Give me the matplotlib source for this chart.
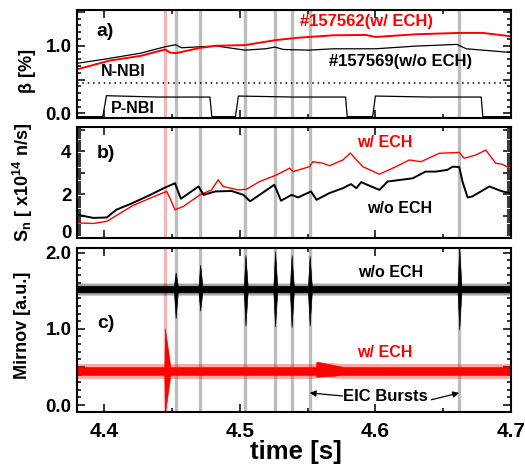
import numpy as np
import matplotlib
matplotlib.use("Agg")
import matplotlib.pyplot as plt
from matplotlib.ticker import MultipleLocator
from matplotlib.transforms import ScaledTranslation

plt.rcParams['font.family'] = ['Liberation Sans', 'DejaVu Sans']
plt.rcParams['font.weight'] = 'bold'
plt.rcParams['mathtext.fontset'] = 'custom'
plt.rcParams['mathtext.rm'] = 'Liberation Sans:bold'
plt.rcParams['mathtext.it'] = 'Liberation Sans:bold'
plt.rcParams['mathtext.bf'] = 'Liberation Sans:bold'
plt.rcParams['mathtext.default'] = 'rm'

# event times (vertical bands)
t_ech_burst = 4.4452
t_eic = [4.4527, 4.4708, 4.5042, 4.5260, 4.5382, 4.5515, 4.6618]

# a) beta [%]
t_beta_ech = [4.380, 4.404, 4.427, 4.445, 4.4485, 4.453, 4.471, 4.483, 4.504,
              4.527, 4.544, 4.569, 4.593, 4.600, 4.630, 4.662, 4.679, 4.700]
beta_ech = [0.65, 0.78, 0.85, 0.945, 0.90, 0.89, 0.97, 1.00, 1.01,
            1.085, 1.12, 1.155, 1.16, 1.13, 1.17, 1.19, 1.19, 1.14]
t_beta_no = [4.380, 4.400, 4.427, 4.445, 4.4527, 4.457, 4.471, 4.483, 4.504,
             4.519, 4.526, 4.532, 4.551, 4.569, 4.600, 4.630, 4.660, 4.667, 4.700]
beta_no = [0.74, 0.80, 0.89, 0.985, 1.015, 0.97, 0.985, 0.995, 0.935,
           0.955, 0.98, 0.945, 0.935, 0.955, 0.955, 0.995, 1.02, 0.955, 0.90]
beta_n_nbi = 0.45
t_pnbi = [4.380, 4.399, 4.4017, 4.440, 4.478, 4.4794, 4.4968, 4.499, 4.540,
          4.578, 4.5792, 4.598, 4.600, 4.640, 4.678, 4.6792, 4.700]
pnbi = [-0.05, -0.05, 0.26, 0.24, 0.24, -0.05, -0.05, 0.255, 0.24,
        0.24, -0.05, -0.05, 0.255, 0.24, 0.24, -0.05, -0.05]

# b) neutron rate [1e14 n/s]
t_sn_no = [4.380, 4.392, 4.402, 4.409, 4.421, 4.434, 4.445, 4.4522, 4.4566,
           4.4696, 4.4733, 4.482, 4.494, 4.5027, 4.5076, 4.5255, 4.5304, 4.5382,
           4.5431, 4.5525, 4.5566, 4.566, 4.576, 4.582, 4.586, 4.5895, 4.603,
           4.609, 4.619, 4.6275, 4.637, 4.6446, 4.653, 4.657, 4.6618, 4.6642,
           4.668, 4.6716, 4.684, 4.6936, 4.700]
sn_no = [1.06, 0.91, 0.93, 1.29, 1.60, 1.98, 2.32, 2.52, 1.80,
         2.37, 1.98, 2.14, 2.16, 1.98, 1.68, 2.45, 1.71, 1.98,
         1.86, 2.14, 1.75, 2.06, 2.29, 2.48, 2.29, 2.57, 2.21,
         2.60, 2.68, 2.75, 3.06, 3.06, 3.14, 3.29, 3.27, 2.60,
         1.86, 1.91, 2.37, 2.14, 2.06]
t_sn_ech = [4.380, 4.392, 4.402, 4.421, 4.434, 4.4461, 4.4485, 4.4522, 4.4583,
            4.4706, 4.4792, 4.4841, 4.4877, 4.4988, 4.5049, 4.5147, 4.527, 4.5368,
            4.5392, 4.5515, 4.5539, 4.5613, 4.5662, 4.576, 4.5815, 4.5907, 4.6029,
            4.6152, 4.625, 4.6336, 4.6471, 4.6618, 4.6654, 4.674, 4.6814, 4.6887,
            4.6936, 4.700]
sn_ech = [0.68, 0.65, 0.75, 1.48, 1.83, 2.14, 1.83, 1.29, 1.44,
          1.98, 2.21, 2.68, 2.37, 2.21, 2.24, 2.60, 2.90, 3.22,
          3.06, 3.29, 3.52, 3.45, 3.33, 3.60, 3.92, 3.29, 2.94,
          3.29, 3.60, 3.52, 3.91, 3.95, 3.68, 3.83, 4.06, 3.45,
          3.40, 3.18]

# c) Mirnov envelopes [a.u.]: dense core band and sparse outer fuzz
mir_no_hi, mir_no_lo = 1.565, 1.478
mir_no_fuzz = 0.035
mir_no_up = [1.74, 1.84, 1.97, 2.02, 1.97, 1.96, 2.08]
mir_no_dn = [1.14, 1.24, 1.04, 1.03, 1.02, 1.04, 0.99]
mir_ech_hi, mir_ech_lo = 0.50, 0.395
mir_ech_fuzz = 0.045
t_ech_spike = 4.4448
ech_spike_up, ech_spike_dn = 1.01, -0.12
t_ech_step = 4.5565
ech_step_up, ech_step_dn = 0.57, 0.37

xlim = (4.38, 4.70)
red = '#ff0000'
band_gray = '#bdbdbd'
band_pink = '#f2b6b6'

fig = plt.figure(figsize=(5.25, 4.68), dpi=100)
ax_a = fig.add_axes([0.1467, 0.7479, 0.8267, 0.2308])
ax_b = fig.add_axes([0.1467, 0.4925, 0.8267, 0.2361])
ax_c = fig.add_axes([0.1467, 0.1197, 0.8267, 0.3504])

for ax in (ax_a, ax_b, ax_c):
    ax.axvline(t_ech_burst, color=band_pink, lw=2.4, zorder=1)
    for t in t_eic:
        ax.axvline(t, color=band_gray, lw=2.4, zorder=1)
    ax.set_xlim(*xlim)
    ax.xaxis.set_major_locator(MultipleLocator(0.1))
    ax.xaxis.set_minor_locator(MultipleLocator(0.05))
    ax.tick_params(which='both', direction='in', top=True, right=True, width=1.1)
    ax.tick_params(which='major', length=6)
    ax.tick_params(which='minor', length=3)
    ax.tick_params(axis='y', labelsize=13.5, pad=4)
    for s in ax.spines.values():
        s.set_linewidth(1.5)
        s.set_zorder(5)

# panel a
ax_a.plot(t_beta_no, beta_no, color='black', lw=0.9, zorder=3)
ax_a.plot(t_beta_ech, beta_ech, color=red, lw=1.4, zorder=3)
ax_a.axhline(beta_n_nbi, color='black', lw=1.1, ls=(0, (1, 2.5)), zorder=3)
ax_a.plot(t_pnbi, pnbi, color='black', lw=0.9, zorder=3)
ax_a.set_ylim(-0.07, 1.53)
ax_a.set_yticks([0, 0.5, 1.0, 1.5])
ax_a.set_yticklabels(['0.0', '', '1.0', ''])
ax_a.yaxis.set_minor_locator(MultipleLocator(0.1))
ax_a.tick_params(axis='x', labelbottom=False)
ax_a.text(4.4007, 1.21, 'a)', fontsize=14, ha='center', va='center')
ax_a.text(4.5931, 1.355, '#157562(w/ ECH)', color=red, fontsize=12, ha='center', va='center')
ax_a.text(4.6182, 0.763, '#157569(w/o ECH)', fontsize=12, ha='center', va='center')
ax_a.text(4.4142, 0.615, 'N-NBI', fontsize=11.5, ha='center', va='center')
ax_a.text(4.4210, 0.074, 'P-NBI', fontsize=11.5, ha='center', va='center')

# panel b
ax_b.plot(t_sn_ech, sn_ech, color=red, lw=1.0, zorder=3)
ax_b.plot(t_sn_no, sn_no, color='black', lw=1.4, zorder=3)
ax_b.set_ylim(0, 5.13)
ax_b.set_yticks([0, 1, 2, 3, 4, 5])
ax_b.set_yticklabels(['0', '', '2', '', '4', ''])
ax_b.yaxis.set_minor_locator(MultipleLocator(0.1))
ax_b.tick_params(axis='x', labelbottom=False)
# the "0" label sits a little above its tick, as in the original
lbl0 = ax_b.get_yticklabels()[0]
lbl0.set_transform(lbl0.get_transform() + ScaledTranslation(0, 4 / 72, fig.dpi_scale_trans))
ax_b.text(4.4015, 3.9, 'b)', fontsize=14, ha='center', va='center')
ax_b.text(4.6072, 4.41, 'w/ ECH', color=red, fontsize=11.5, ha='center', va='center')
ax_b.text(4.6176, 1.35, 'w/o ECH', fontsize=11.5, ha='center', va='center')


# panel c: envelopes built from the read peak values
def envelope(t_ev, hi, lo, ups, dns, rise, fall):
    tt, uu, dd = [xlim[0]], [hi], [lo]
    for t, u, d, f in sorted(zip(t_ev, ups, dns, fall)):
        tt += [t - rise, t, t + f]
        uu += [hi, u, hi]
        dd += [lo, d, lo]
    tt.append(xlim[1]); uu.append(hi); dd.append(lo)
    return np.array(tt), np.array(uu), np.array(dd)


def mirnov(ax, t_ev, hi, lo, fuzz, ups, dns, rise, fall, color):
    tt, uu, dd = envelope(t_ev, hi + fuzz, lo - fuzz, ups, dns, rise, fall)
    ax.fill_between(tt, dd, uu, color=color, alpha=0.35, lw=0, zorder=3)
    tt, uu, dd = envelope(t_ev, hi, lo, ups, dns, rise, fall)
    ax.fill_between(tt, dd, uu, color=color, lw=0.4, edgecolor=color, zorder=3)


n = len(t_eic)
mirnov(ax_c, t_eic, mir_no_hi, mir_no_lo, mir_no_fuzz, mir_no_up, mir_no_dn,
       0.0012, [0.0016] * n, 'black')
mirnov(ax_c, [t_ech_spike, t_ech_step], mir_ech_hi, mir_ech_lo, mir_ech_fuzz,
       [ech_spike_up, ech_step_up], [ech_spike_dn, ech_step_dn],
       0.0004, [0.004, 0.02], red)

ax_c.set_ylim(-0.09, 2.06)
ax_c.set_yticks([0, 0.5, 1.0, 1.5, 2.0])
ax_c.set_yticklabels(['0.0', '', '1.0', '', '2.0'])
ax_c.yaxis.set_minor_locator(MultipleLocator(0.1))
ax_c.set_xticks([4.4, 4.5, 4.6, 4.7])
ax_c.set_xticklabels(['4.4', '4.5', '4.6', '4.7'])
ax_c.tick_params(axis='x', labelsize=15, pad=7)
ax_c.text(4.4015, 1.07, 'c)', fontsize=14, ha='center', va='center')
ax_c.text(4.6115, 1.74, 'w/o ECH', fontsize=11.5, ha='center', va='center')
ax_c.text(4.6072, 0.69, 'w/ ECH', color=red, fontsize=11.5, ha='center', va='center')
ax_c.text(4.6074, 0.11, 'EIC Bursts', fontsize=12, ha='center', va='center')
arrow = dict(arrowstyle='-|>', color='black', lw=0.9, mutation_scale=9, shrinkA=0, shrinkB=0)
ax_c.annotate('', xy=(t_eic[5], 0.16), xytext=(4.5757, 0.12), arrowprops=arrow, zorder=6)
ax_c.annotate('', xy=(t_eic[6], 0.16), xytext=(4.6412, 0.07), arrowprops=arrow, zorder=6)

fig.text(0.5634, 0.034, 'time [s]', fontsize=18.5, ha='center', va='center')
fig.text(28 / 525, 1 - 71 / 468, 'β [%]', fontsize=13, rotation=90, ha='center', va='center')
fig.text(23 / 525, 1 - 182 / 468, r'S$_{n}$ [ x10$^{14}$ n/s]', fontsize=13,
         rotation=90, ha='center', va='center')
fig.text(23 / 525, 1 - 325 / 468, 'Mirnov [a.u.]', fontsize=13, rotation=90,
         ha='center', va='center')

fig.savefig('out.png', dpi=100)
